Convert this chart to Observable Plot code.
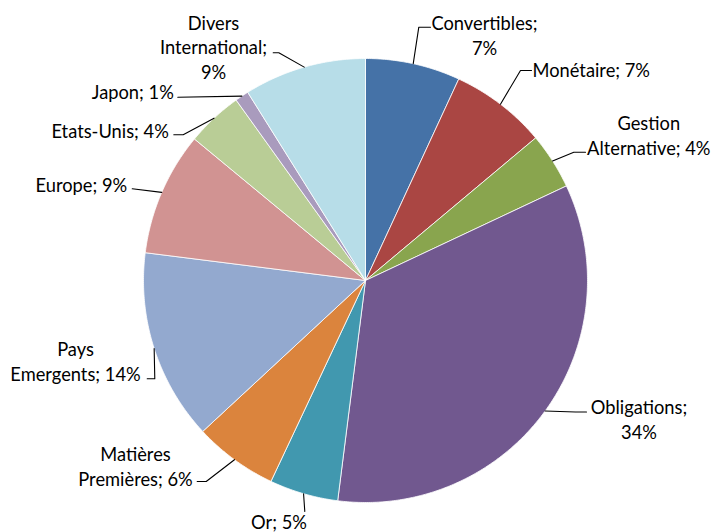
<!DOCTYPE html>
<html><head><meta charset="utf-8">
<script src="https://cdn.jsdelivr.net/npm/d3@7"></script>
<script src="https://cdn.jsdelivr.net/npm/@observablehq/plot@0.6"></script>
<style>html,body{margin:0;padding:0;background:#fff}</style>
</head><body><div id="chart"></div>
<script>
// ---- data ----
const categories = ["Convertibles","Monétaire","Gestion Alternative","Obligations","Or","Matières Premières","Pays Emergents","Europe","Etats-Unis","Japon","Divers International"];
const values = [6.9, 7.0, 4.1, 34.0, 5.0, 6.1, 13.9, 9.0, 4.1, 1.0, 8.9];
const labelTexts = ["Convertibles;\n7%","Monétaire; 7%","Gestion\nAlternative; 4%","Obligations;\n34%","Or; 5%","Matières\nPremières; 6%","Pays\nEmergents; 14%","Europe; 9%","Etats-Unis; 4%","Japon; 1%","Divers\nInternational;\n9%"];
const colors = ["#4572A7","#AA4643","#89A54E","#71588F","#4198AF","#DB843D","#93A9CF","#D19392","#B9CD96","#A99BBD","#B7DDE8"];

// ---- label layout (offsets from pie centre, in px, y up) ----
const labelAnchor = ["middle","start","middle","middle","middle","middle","middle","end","end","end","middle"];
const labelPos = [[119,245.75],[167,211.5],[283.3,145.8],[273.5,-138.2],[-86.5,-240.5],[-230,-185.3],[-290,-80],[-238.3,96],[-196.7,150.7],[-191.7,189.3],[-152,234]];
const leaderElbow = [[53.3,253.3],[155,210],[208.3,128.3],[210,-131.5],[-60.7,-231],[-159.3,-201],[-210.7,-98.3],[-233.3,91.7],[-182.3,145.7],[-187.7,183.3],[-86.7,227.7]];
const leaderEnd = [[65,253.3],[166,210],[220,128.3],[221,-131.5],[-60.7,-231],[-168.3,-201],[-218.3,-98.3],[-233.3,91.7],[-191.7,145.7],[-187.7,183.3],[-92.3,227.7]];

const R = 222;
const arcs = d3.pie().sort(null).startAngle(0).endAngle(2*Math.PI)(values);

const slicePts = [];
arcs.forEach((a, i) => {
  slicePts.push({k: i, x: 0, y: 0, c: colors[i]});
  const n = Math.max(4, Math.ceil((a.endAngle - a.startAngle) / (Math.PI/360)));
  for (let j = 0; j <= n; j++) {
    const t = a.startAngle + (a.endAngle - a.startAngle) * j / n;
    slicePts.push({k: i, x: R*Math.sin(t), y: R*Math.cos(t), c: colors[i]});
  }
  slicePts.push({k: i, x: 0, y: 0, c: colors[i]});
});

const leaderPts = [];
arcs.forEach((a, i) => {
  const m = (a.startAngle + a.endAngle) / 2;
  leaderPts.push({k: i, x: R*Math.sin(m), y: R*Math.cos(m)});
  leaderPts.push({k: i, x: leaderElbow[i][0], y: leaderElbow[i][1]});
  leaderPts.push({k: i, x: leaderEnd[i][0], y: leaderEnd[i][1]});
});

const labels = labelTexts.map((t, i) => ({t, x: labelPos[i][0], y: labelPos[i][1], a: labelAnchor[i]}));
const textOpts = {x: "x", y: "y", text: "t", fontSize: 18.3, lineHeight: 1.35, fill: "#000", lineAnchor: "middle"};

const chart = Plot.plot({
  width: 712, height: 532, margin: 0,
  x: {domain: [-365, 347], axis: null},
  y: {domain: [-252, 280], axis: null},
  color: {type: "identity"},
  style: {fontFamily: "Lato, 'Open Sans', sans-serif", background: "#fff"},
  marks: [
    Plot.line(slicePts, {x: "x", y: "y", z: "k", fill: "c", stroke: "white", strokeWidth: 0.8, curve: "linear"}),
    Plot.line(leaderPts, {x: "x", y: "y", z: "k", stroke: "#000", strokeWidth: 1.1}),
    Plot.text(labels.filter(d => d.a === "middle"), {...textOpts, textAnchor: "middle"}),
    Plot.text(labels.filter(d => d.a === "start"), {...textOpts, textAnchor: "start"}),
    Plot.text(labels.filter(d => d.a === "end"), {...textOpts, textAnchor: "end"})
  ]
});
document.getElementById("chart").appendChild(chart);
</script>
</body></html>
